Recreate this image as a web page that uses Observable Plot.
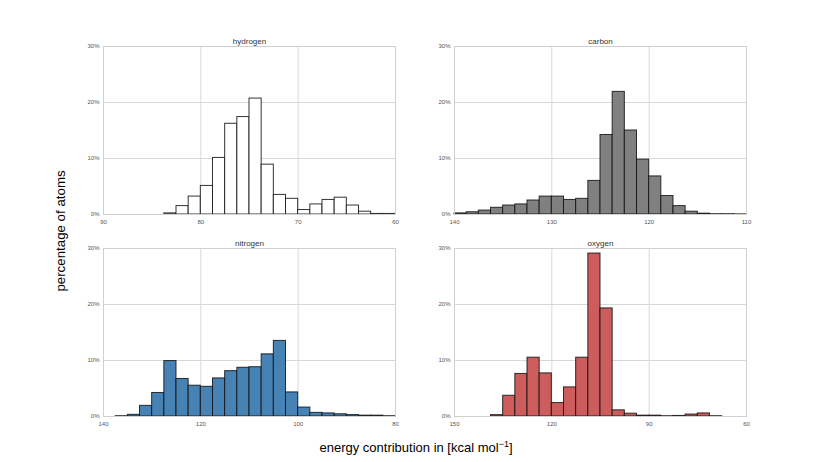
<!DOCTYPE html>
<html><head>
<meta charset="utf-8">
<script src="https://cdn.jsdelivr.net/npm/d3@7"></script>
<script src="https://cdn.jsdelivr.net/npm/@observablehq/plot@0.6"></script>
<style>
body{margin:0;background:#fff;font-family:"Liberation Sans",Arial,sans-serif}
#wrap{position:relative;width:830px;height:462px;overflow:hidden}
.p{position:absolute}
#ylab{position:absolute;left:60px;top:231px;transform:translate(-50%,-50%) rotate(-90deg);font-size:13.3px;white-space:nowrap;color:#000}
#xlab{position:absolute;left:416px;top:447px;transform:translate(-50%,-50%);font-size:13px;white-space:nowrap;color:#000}
#xlab sup{font-size:9px;vertical-align:5px;line-height:0}
</style></head><body>
<div id="wrap">
  <div id="ylab">percentage of atoms</div>
  <div id="xlab">energy contribution in [kcal mol<sup>−1</sup>]</div>
</div>
<script>
// ---- data ----
const elements = ["hydrogen", "carbon", "nitrogen", "oxygen"];
const xDomains = [[90, 60], [140, 110], [140, 80], [150, 60]];
const xTickValues = [[90, 80, 70, 60], [140, 130, 120, 110], [140, 120, 100, 80], [150, 120, 90, 60]];
const yTickValues = [0, 10, 20, 30];
const binStart = [83.75, 140, 137.5, 138.75];   // first (highest) bin edge, bins run downward
const binWidth = [1.25, 1.25, 2.5, 3.75];
const hydrogenPct = [0.2, 1.5, 3.2, 5.1, 10.1, 16.2, 17.4, 20.7, 8.9, 3.5, 2.8, 0.8, 1.8, 2.6, 3.0, 1.6, 0.5, 0.1, 0.1];
const carbonPct = [0.2, 0.4, 0.7, 1.2, 1.6, 1.8, 2.5, 3.2, 3.2, 2.6, 2.8, 6.0, 14.2, 21.9, 15.0, 9.8, 6.8, 3.3, 1.5, 0.5, 0.15, 0.05, 0.05, 0.02];
const nitrogenPct = [0.05, 0.3, 1.9, 4.2, 9.9, 6.7, 5.5, 5.3, 6.8, 8.1, 8.7, 8.8, 11.1, 13.5, 4.3, 1.6, 0.65, 0.55, 0.4, 0.25, 0.15, 0.15, 0.05];
const oxygenPct = [0.24, 3.7, 7.6, 10.5, 7.7, 2.4, 5.2, 10.5, 29.1, 19.3, 1.1, 0.5, 0.15, 0.15, 0.05, 0.1, 0.35, 0.55, 0.05];
const seriesPct = [hydrogenPct, carbonPct, nitrogenPct, oxygenPct];
const fills = ["#ffffff", "#808080", "#4682b4", "#cd5c5c"];

// ---- layout ----
const panelLeft = [73, 424, 73, 424];
const panelTop = [32, 32, 234, 234];
const wrap = document.getElementById("wrap");

elements.forEach((name, k) => {
  const rows = seriesPct[k].map((v, i) => ({
    x1: binStart[k] - i * binWidth[k],
    x2: binStart[k] - (i + 1) * binWidth[k],
    pct: v
  }));
  const xt = xTickValues[k];
  const chart = Plot.plot({
    width: 332, height: 196,
    marginLeft: 30, marginRight: 10, marginTop: 14, marginBottom: 14,
    style: {fontFamily: "'Liberation Sans', Arial, sans-serif", fontSize: "6px", color: "#555", background: "transparent", overflow: "visible"},
    x: {domain: xDomains[k], ticks: xt, tickSize: 0, tickPadding: 5, tickFormat: d => String(d), label: null},
    y: {domain: [0, 30], ticks: yTickValues, tickSize: 0, tickPadding: 4, tickFormat: d => d + "%", label: null},
    marks: [
      Plot.gridX(xt.slice(1, -1), {stroke: "#d8d8d8", strokeOpacity: 1}),
      Plot.gridY(yTickValues.slice(1, -1), {stroke: "#d8d8d8", strokeOpacity: 1}),
      Plot.rectY(rows, {x1: "x1", x2: "x2", y1: 0, y2: "pct", fill: fills[k], stroke: "#111", strokeOpacity: 0.85, strokeWidth: 1, insetLeft: 0, insetRight: 0}),
      Plot.frame({stroke: "#d0d0d0"}),
      Plot.text([name], {frameAnchor: "top", lineAnchor: "bottom", dy: -3, fontSize: 8, fontWeight: "normal", fill: "#333"})
    ]
  });
  chart.classList.add("p");
  chart.style.left = panelLeft[k] + "px";
  chart.style.top = panelTop[k] + "px";
  wrap.appendChild(chart);
});
</script>
</body></html>
